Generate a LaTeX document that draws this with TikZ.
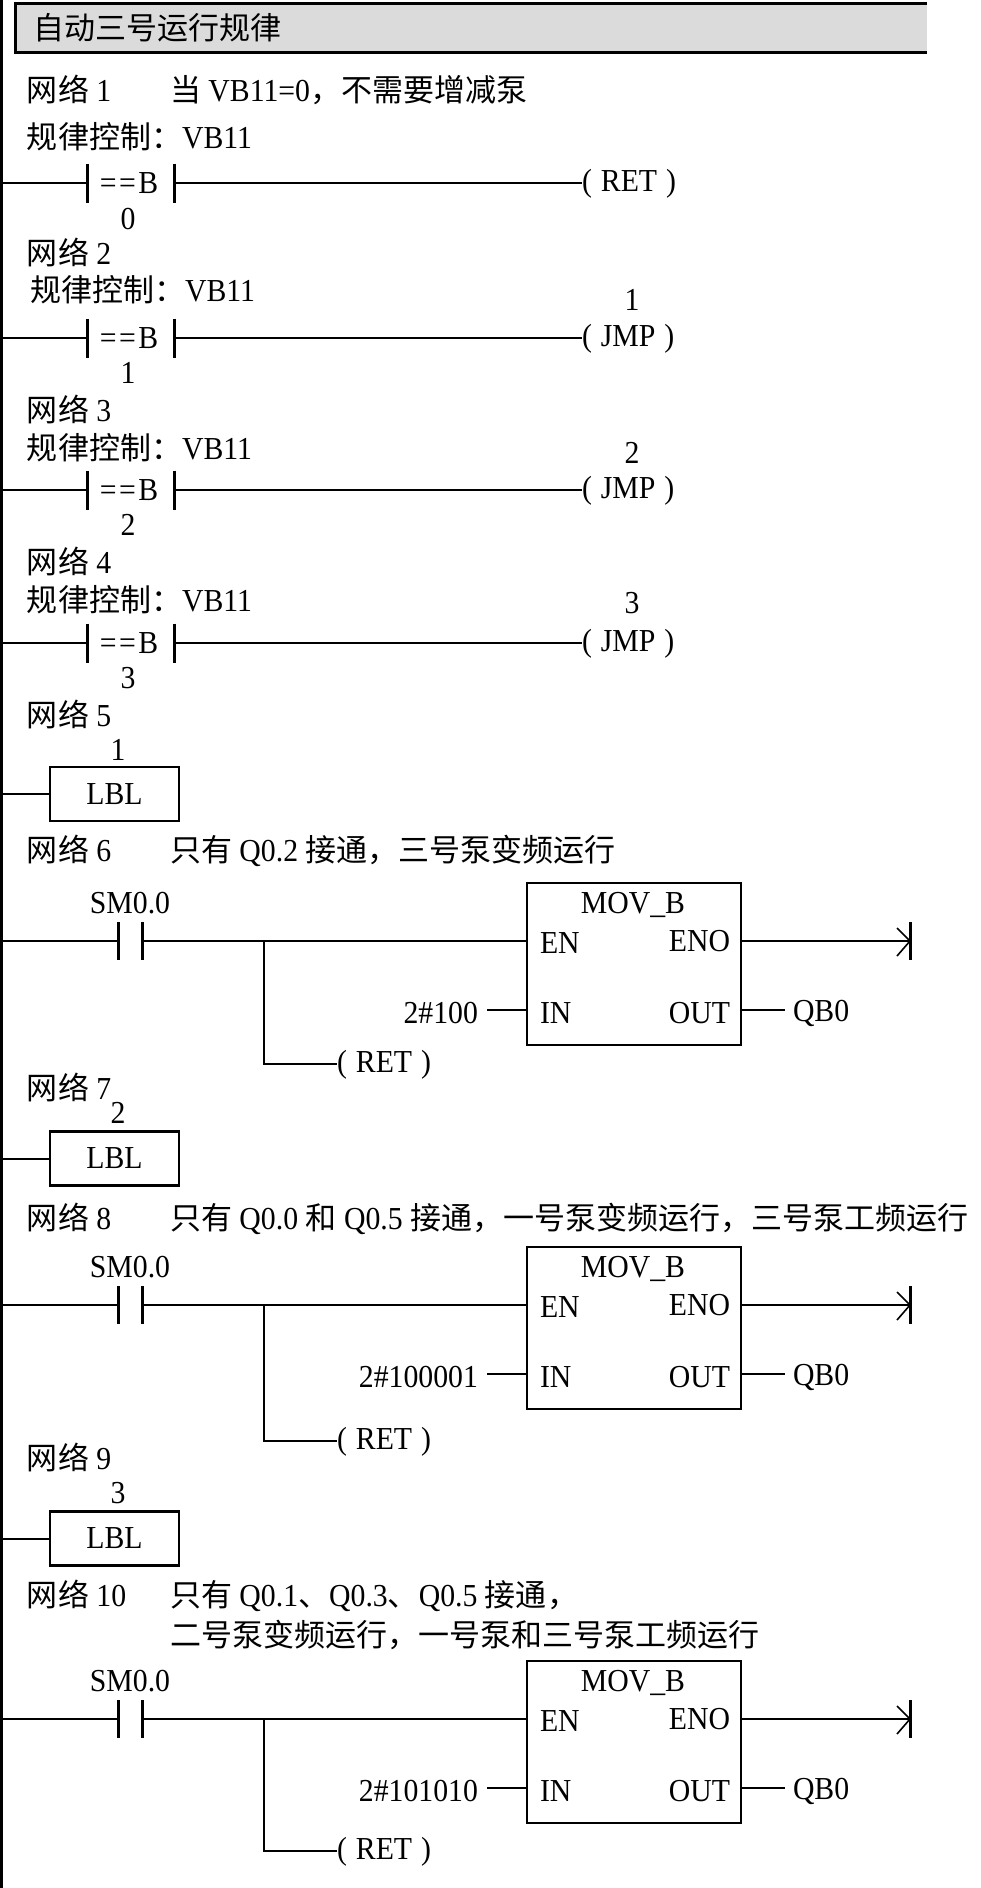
\documentclass[tikz,border=0pt]{standalone}
\usepackage{fontspec}
\setmainfont{Liberation Serif}[FakeStretch=0.93]
\newfontfamily\cjk{Noto Sans CJK SC}[Scale=0.969]
\begin{document}
\begin{tikzpicture}[x=1pt,y=-1pt,
  every node/.style={inner sep=0pt, outer sep=0pt, font=\fontsize{32}{38}\selectfont},
  txt/.style={anchor=base west},
  txtr/.style={anchor=base east},
  txtc/.style={anchor=base},
  wire/.style={line width=2pt},
  bar/.style={line width=3pt},
  cmpc/.style={minimum width=87pt, minimum height=39pt},
  noc/.style={minimum width=24pt, minimum height=38pt},
  lblbox/.style={draw, line width=2.6pt, minimum width=129pt, minimum height=54pt},
  movbox/.style={draw, line width=2.6pt, minimum width=214pt, minimum height=162pt},
  tip/.style={line width=1.6pt}]
\useasboundingbox (0,0) rectangle (981,1888);
\fill[white] (0,0) rectangle (981,1888);

% title bar
\fill[gray!28] (15,3) rectangle (927,52);
\draw[line width=3pt] (927,3) -- (15,3) -- (15,52) -- (927,52);
\node[txt] (title) at (33,39.5) {\cjk 自动三号运行规律};

% left power rail
\coordinate (rt) at (1.5,0);
\coordinate (rb) at (1.5,1888);
\draw[line width=3pt] (rt) -- (rb);

% networks 1-4 : compare contacts
\foreach \i/\r/\nb/\bb/\gx/\gb/\hb/\coil in {1/183/0/229/27/148/101.5/RET, 2/338/1/383/30/301/264/JMP, 3/490/2/535/27/459/421/JMP, 4/643/3/688/27/611/573/JMP} {
  \node[txt] (h\i) at (27,\hb) {{\cjk 网络} \i};
  \node[txt] (g\i) at (\gx,\gb) {{\cjk 规律控制：}VB11};
  \coordinate (r\i) at (0,\r);
  \node[cmpc] (k\i) at (130.5,\r) {};
  \draw[bar] (k\i.north west) -- (k\i.south west) (k\i.north east) -- (k\i.south east);
  \node[txtc] (kt\i) at (129,{\r+10.5}) {=\kern2.5pt=\kern2.5pt B};
  \node[txtc] (kn\i) at (128,\bb) {\nb};
  \node[txt] (o\i) at (582,{\r+8.5}) {(\hspace{9pt}\coil\hspace{9pt})};
  \draw[wire] (r\i) -- (k\i.west |- r\i);
  \draw[wire] (k\i.east |- r\i) -- (o\i.west |- r\i);
}
\node[txt] (d1) at (170,101.5) {{\cjk 当} VB11=0{\cjk ，不需要增减泵}};
\foreach \i/\lb in {2/310, 3/463, 4/613} {
  \pgfmathtruncatemacro{\j}{\i-1}
  \node[txtc] (jl\i) at (632,\lb) {\j};
}

% labels (networks 5, 7, 9)
\foreach \i/\n/\hb/\nb/\c in {5/1/726/760/794, 7/2/1099/1123/1158.5, 9/3/1469/1503/1538.5} {
  \node[txt] (h\i) at (27,\hb) {{\cjk 网络} \i};
  \node[txtc] (ln\i) at (118,\nb) {\n};
  \node[lblbox] (lb\i) at (114.5,\c) {LBL};
  \coordinate (r\i) at (0,\c);
  \draw[wire] (r\i) -- (lb\i.west);
}

% networks 6, 8, 10 : MOV_B
\foreach \i/\hb/\R/\v/\o in {6/861/941/100/123, 8/1229/1305/100001/136, 10/1606/1719/101010/132} {
  \node[txt] (h\i) at (27,\hb) {{\cjk 网络} \i};
  \coordinate (r\i) at (0,\R);
  \node[noc] (sm\i) at (130,\R) {};
  \draw[bar] (sm\i.north west) -- (sm\i.south west) (sm\i.north east) -- (sm\i.south east);
  \node[txtc] (sml\i) at (130,{\R-28}) {SM0.0};
  \node[movbox] (mov\i) at (634,{\R+23}) {};
  \node[txtc] (mt\i) at (633,{\R-28}) {MOV\_B};
  \node[txt] (en\i) at (540,{\R+12}) {EN};
  \node[txtr] (eno\i) at (730,{\R+10}) {ENO};
  \node[txt] (in\i) at (540,{\R+82}) {IN};
  \node[txtr] (out\i) at (730,{\R+82}) {OUT};
  \draw[wire] (r\i) -- (sm\i.west |- r\i);
  \draw[wire] (sm\i.east |- r\i) -- (mov\i.west |- r\i);
  % RET branch
  \coordinate (br\i) at (264,\R);
  \coordinate (brd\i) at (264,{\R+\o});
  \node[txt] (ret\i) at (337,{\R+\o+8.5}) {(\hspace{9pt}RET\hspace{9pt})};
  \draw[wire] (br\i) -- (brd\i) -- (ret\i.west |- brd\i);
  % IN value
  \node[txtr] (iv\i) at (478,{\R+82}) {2\#\v};
  \coordinate (ia\i) at (487,{\R+69});
  \draw[wire] (ia\i) -- (mov\i.west |- ia\i);
  % ENO end
  \coordinate (end\i) at (910,\R);
  \draw[wire] (mov\i.east |- r\i) -- (end\i);
  \draw[bar] (910,{\R-19}) -- (910,{\R+19});
  \draw[tip] (897,{\R-13}) -- (end\i) -- (897,{\R+15});
  % OUT
  \coordinate (oa\i) at (785,{\R+69});
  \draw[wire] (mov\i.east |- oa\i) -- (oa\i);
  \node[txt] (qb\i) at (793,{\R+80}) {QB0};
}
\node[txt] (d6) at (170,861) {{\cjk 只有} Q0.2 {\cjk 接通，三号泵变频运行}};
\node[txt] (d8) at (170,1229) {{\cjk 只有} Q0.0 {\cjk 和} Q0.5 {\cjk 接通，一号泵变频运行，三号泵工频运行}};
\node[txt] (d10) at (170,1606) {{\cjk 只有} Q0.1{\cjk 、}Q0.3{\cjk 、}Q0.5 {\cjk 接通，}};
\node[txt] (d10b) at (170,1646) {\cjk 二号泵变频运行，一号泵和三号泵工频运行};
\end{tikzpicture}
\end{document}
